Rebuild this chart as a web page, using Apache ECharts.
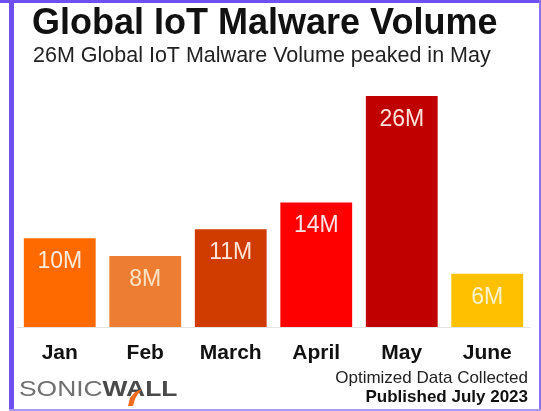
<!DOCTYPE html>
<html>
<head>
<meta charset="utf-8">
<script src="https://cdn.jsdelivr.net/npm/echarts@6/dist/echarts.min.js"></script>
<style>
html,body{margin:0;padding:0;background:#fff;}
#chart{width:541px;height:411px;}
</style>
</head>
<body>
<div id="chart"></div>
<script>
// data
var months = ['Jan', 'Feb', 'March', 'April', 'May', 'June'];
var volumes = [10, 8, 11, 14, 26, 6];
var valueLabels = ['10M', '8M', '11M', '14M', '26M', '6M'];
var barColors = ['#FF6A00', '#EE7D34', '#D03C00', '#FF0000', '#C00000', '#FFC000'];
var labelColors = ['#FFEADB', '#FCE3C4', '#FFE4D6', '#FFE4E4', '#FFE2D8', '#FFF2CC'];

var font = 'Liberation Sans, Arial, sans-serif';
var myChart = echarts.init(document.getElementById('chart'));

var seriesData = [];
for (var i = 0; i < volumes.length; i++) {
	seriesData.push({
		value: volumes[i],
		itemStyle: { color: barColors[i] },
		label: { color: labelColors[i] }
	});
}

var option = {
	animation: false,
	grid: {
		left: 17,
		right: 11,
		top: 96,
		bottom: 84
	},
	xAxis: {
		type: 'category',
		data: months,
		axisTick: { show: false },
		axisLine: { lineStyle: { color: '#E3E3E3', width: 1 } },
		axisLabel: {
			margin: 16,
			color: '#111',
			fontFamily: font,
			fontWeight: 'bold',
			fontSize: 21
		}
	},
	yAxis: {
		type: 'value',
		min: 0,
		max: 26,
		show: false,
		splitLine: { show: false }
	},
	series: [{
		type: 'bar',
		data: seriesData,
		barCategoryGap: '16%',
		label: {
			show: true,
			position: 'insideTop',
			distance: 12,
			fontFamily: font,
			fontSize: 23,
			formatter: function (p) {
				return valueLabels[p.dataIndex];
			}
		}
	}],
	graphic: [
		// frame
		{ type: 'rect', shape: { x: 0, y: 0, width: 541, height: 3 }, style: { fill: '#6E50F0' } },
		{ type: 'rect', shape: { x: 9, y: 0, width: 5, height: 411 }, style: { fill: '#6E50F0' } },
		{ type: 'rect', shape: { x: 539, y: 0, width: 2, height: 411 }, style: { fill: '#8A72F2' } },
		{ type: 'rect', shape: { x: 9, y: 409, width: 532, height: 2 }, style: { fill: '#A89BF5' } },
		// titles
		{
			type: 'text', left: 32, top: 6,
			style: { text: 'Global IoT Malware Volume', fill: '#111', font: 'bold 36px ' + font }
		},
		{
			type: 'text', left: 33, top: 45,
			style: { text: '26M Global IoT Malware Volume peaked in May', fill: '#222', font: '21.5px ' + font }
		},
		// footer
		{
			type: 'text', right: 13, top: 370,
			style: { text: 'Optimized Data Collected', fill: '#222', font: '17px ' + font, align: 'right' }
		},
		{
			type: 'text', right: 13, top: 389,
			style: { text: 'Published July 2023', fill: '#111', font: 'bold 17px ' + font, align: 'right' }
		},
		// logo
		{
			type: 'text', left: 19, top: 379, scaleX: 1.2,
			style: {
				text: '{a|SONIC}{b|WALL}',
				rich: {
					a: { fill: '#707070', font: '22px ' + font },
					b: { fill: '#4A4A4A', font: 'bold 22px ' + font }
				}
			}
		},
		{
			type: 'polygon',
			shape: { points: [[128, 406], [130, 398], [135, 392], [142, 389], [138, 394], [135, 399], [133, 406]] },
			style: { fill: '#F26B21' }
		}
	]
};
myChart.setOption(option, true);
window.onresize = function () {
	myChart.resize();
};
</script>
</body>
</html>
